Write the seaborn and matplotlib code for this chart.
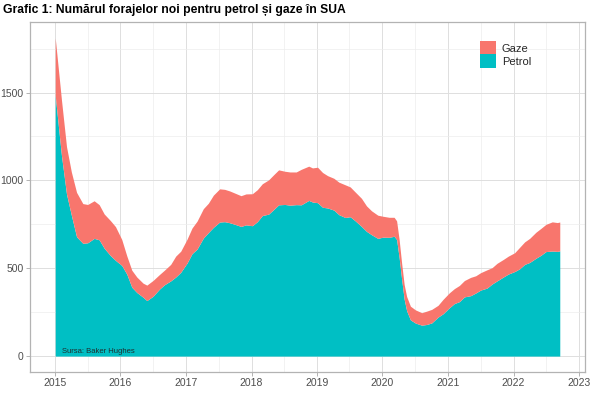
import pandas as pd
import numpy as np
import matplotlib
matplotlib.use("Agg")
import matplotlib.pyplot as plt
import matplotlib.dates as mdates
from matplotlib.patches import Patch
from matplotlib.ticker import MultipleLocator
import seaborn as sns

# Baker Hughes US rig counts (roughly monthly)
dates = [
    "2015-01-02", "2015-02-06", "2015-03-06", "2015-04-02", "2015-05-01", "2015-06-05",
    "2015-07-02", "2015-08-07", "2015-09-04", "2015-10-02", "2015-11-06", "2015-12-04",
    "2016-01-08", "2016-02-05", "2016-03-04", "2016-04-01", "2016-05-06", "2016-05-27",
    "2016-07-01", "2016-08-05", "2016-09-02", "2016-10-07", "2016-11-04", "2016-12-02",
    "2017-01-06", "2017-02-03", "2017-03-03", "2017-04-07", "2017-05-05", "2017-06-02",
    "2017-07-07", "2017-08-04", "2017-09-01", "2017-10-06", "2017-11-03", "2017-12-01",
    "2018-01-05", "2018-02-02", "2018-03-02", "2018-04-06", "2018-05-04", "2018-06-01",
    "2018-07-06", "2018-08-03", "2018-09-07", "2018-10-05", "2018-11-16", "2018-12-07",
    "2019-01-04", "2019-02-01", "2019-03-01", "2019-04-05", "2019-05-03", "2019-06-07",
    "2019-07-05", "2019-08-02", "2019-09-06", "2019-10-04", "2019-11-01", "2019-12-06",
    "2020-01-03", "2020-02-07", "2020-03-06", "2020-03-20", "2020-04-03", "2020-04-17",
    "2020-05-01", "2020-05-15", "2020-06-05", "2020-07-03", "2020-08-07", "2020-09-04",
    "2020-10-02", "2020-11-06", "2020-12-04",
    "2021-01-08", "2021-02-05", "2021-03-05", "2021-04-02", "2021-05-07", "2021-06-04",
    "2021-07-02", "2021-08-06", "2021-09-03", "2021-10-01", "2021-11-05", "2021-12-03",
    "2022-01-07", "2022-02-04", "2022-03-04", "2022-04-01", "2022-05-06", "2022-06-03",
    "2022-07-01", "2022-08-05", "2022-09-02", "2022-09-16",
]

petrol = [
    1482, 1140, 922, 802, 679, 642, 645, 670, 662, 614, 572, 545,
    516, 467, 392, 362, 335, 316, 341, 381, 406, 428, 450, 477,
    529, 583, 609, 672, 703, 733, 763, 765, 759, 748, 738, 747,
    742, 765, 800, 808, 834, 861, 863, 859, 862, 861, 886, 877,
    873, 847, 843, 831, 805, 789, 793, 770, 738, 710, 691, 670,
    677, 676, 682, 664, 562, 438, 325, 258, 206, 188, 176, 180,
    189, 222, 241,
    275, 299, 310, 337, 344, 359, 376, 387, 410, 428, 450, 467,
    481, 497, 522, 533, 557, 574, 595, 598, 596, 599,
]

gaze = [
    329, 316, 270, 246, 253, 226, 218, 214, 200, 195, 199, 192,
    148, 104, 97, 88, 80, 88, 90, 83, 83, 94, 119, 120,
    136, 146, 159, 167, 167, 183, 189, 184, 181, 177, 175, 176,
    182, 182, 181, 195, 198, 199, 189, 189, 186, 202, 195, 194,
    202, 198, 184, 181, 185, 186, 170, 164, 160, 145, 136, 132,
    119, 114, 108, 106, 102, 91, 83, 81, 78, 75, 71, 76,
    77, 67, 82,
    85, 85, 92, 93, 104, 98, 99, 104, 93, 100, 100, 102,
    107, 122, 128, 137, 148, 153, 155, 166, 164, 164,
]

series_labels = ["Gaze", "Petrol"]
series_colors = {"Gaze": "#F8766D", "Petrol": "#00BFC4"}

df = pd.DataFrame({"Date": pd.to_datetime(dates), "Petrol": petrol, "Gaze": gaze})

sns.set_theme(style="whitegrid")
plt.rcParams["font.family"] = ["Liberation Sans", "DejaVu Sans"]

fig = plt.figure(figsize=(6, 3.99), dpi=100)
ax = fig.add_axes([30 / 600, 27 / 399, 555 / 600, 350 / 399])

ax.stackplot(df["Date"], df["Petrol"], df["Gaze"],
             colors=[series_colors["Petrol"], series_colors["Gaze"]],
             linewidth=0, zorder=2)

# ggplot-like 5% expansion
x0, x1 = df["Date"].min(), df["Date"].max()
pad = (x1 - x0) * 0.05
ax.set_xlim(x0 - pad, x1 + pad)
ymax = (df["Petrol"] + df["Gaze"]).max()
ax.set_ylim(-0.05 * ymax, 1.05 * ymax)

ax.xaxis.set_major_locator(mdates.YearLocator())
ax.xaxis.set_major_formatter(mdates.DateFormatter("%Y"))
ax.xaxis.set_minor_locator(mdates.MonthLocator(bymonth=7))
ax.yaxis.set_major_locator(MultipleLocator(500))
ax.yaxis.set_minor_locator(MultipleLocator(250))

ax.set_facecolor("white")
ax.grid(which="major", color="#DEDEDE", linewidth=0.7, zorder=0)
ax.grid(which="minor", color="#EDEDED", linewidth=0.5, zorder=0)
ax.set_axisbelow(True)
for s in ax.spines.values():
    s.set_color("#B3B3B3")
    s.set_linewidth(0.9)

ax.tick_params(axis="both", which="major", length=3, width=0.7, color="#B3B3B3",
               labelsize=7.5, labelcolor="#4D4D4D", pad=1.5, direction="out",
               bottom=True, left=True)
ax.tick_params(which="minor", length=0)
ax.set_xlabel("")
ax.set_ylabel("")

handles = [Patch(facecolor=series_colors[k], edgecolor="none") for k in series_labels]
ax.legend(handles, series_labels, loc="upper left", bbox_to_anchor=(0.810, 0.945),
          frameon=False, fontsize=8, handlelength=1.45, handleheight=1.45,
          labelspacing=0.0, handletextpad=0.55, borderaxespad=0, borderpad=0)

ax.text(pd.Timestamp("2015-02-08"), 27, "Sursa: Baker Hughes", fontsize=5.5,
        color="#1E2F30", ha="left", va="center", zorder=3)

fig.text(3 / 600, 1 - 10 / 399, "Grafic 1: Numărul forajelor noi pentru petrol și gaze în SUA",
         fontsize=8.7, fontweight="bold", ha="left", va="center", color="black")

fig.savefig("out.png", dpi=100)
